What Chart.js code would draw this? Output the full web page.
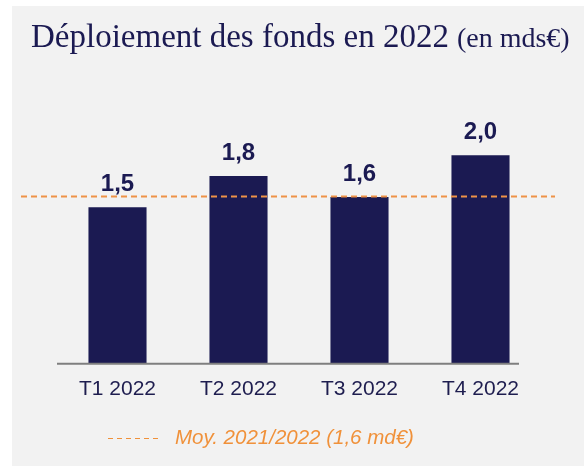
<!DOCTYPE html>
<html>
<head>
<meta charset="utf-8">
<script src="https://cdn.jsdelivr.net/npm/chart.js@4"></script>
<style>
  html, body { margin: 0; padding: 0; background: #ffffff; }
  #wrap { position: relative; width: 584px; height: 467px; }
</style>
</head>
<body>
<div id="wrap"><canvas id="chart" width="584" height="467"></canvas></div>
<script>
// data
const categories = ['T1 2022', 'T2 2022', 'T3 2022', 'T4 2022'];
const deploiement = [1.5, 1.8, 1.6, 2.0];
const moyenne = 1.6;
const titre = 'Déploiement des fonds en 2022';
const sousTitre = '(en mds€)';
const legendeMoy = 'Moy. 2021/2022 (1,6 md€)';

const navy = '#1b1a52';
const orange = '#f0913a';

const fmt = v => v.toFixed(1).replace('.', ',');

// fond gris + titre
const fondPlugin = {
  id: 'fond',
  beforeDraw(chart) {
    const ctx = chart.ctx;
    ctx.save();
    ctx.fillStyle = '#f2f2f2';
    ctx.fillRect(12, 6, chart.width - 12, chart.height - 7);
    ctx.fillStyle = navy;
    ctx.textBaseline = 'alphabetic';
    ctx.font = '33px "Liberation Serif", serif';
    ctx.fillText(titre, 31, 47);
    const w = ctx.measureText(titre).width;
    ctx.font = '28px "Liberation Serif", serif';
    ctx.fillText(sousTitre, 31 + w + 8, 47);
    ctx.restore();
  }
};

// axe, ligne moyenne, étiquettes, légende
const decorPlugin = {
  id: 'decor',
  afterDatasetsDraw(chart) {
    const ctx = chart.ctx;
    const area = chart.chartArea;
    const y = chart.scales.y;
    ctx.save();

    // ligne de base
    ctx.strokeStyle = '#7f7f7f';
    ctx.lineWidth = 2;
    ctx.beginPath();
    ctx.moveTo(area.left, y.getPixelForValue(0));
    ctx.lineTo(area.right - 22, y.getPixelForValue(0));
    ctx.stroke();

    // moyenne
    const ym = Math.round(y.getPixelForValue(moyenne)) - 0.5;
    ctx.strokeStyle = '#ee9247';
    ctx.lineWidth = 2;
    ctx.setLineDash([6, 4]);
    ctx.beginPath();
    ctx.moveTo(area.left - 36, ym);
    ctx.lineTo(area.right + 14, ym);
    ctx.stroke();

    // valeurs
    ctx.setLineDash([]);
    ctx.fillStyle = navy;
    ctx.font = 'bold 24px "Liberation Sans", Arial, sans-serif';
    ctx.textAlign = 'center';
    ctx.textBaseline = 'alphabetic';
    chart.getDatasetMeta(0).data.forEach((bar, i) => {
      ctx.fillText(fmt(deploiement[i]), bar.x, bar.y - 16);
    });

    // légende
    ctx.strokeStyle = orange;
    ctx.lineWidth = 1.2;
    ctx.setLineDash([5, 4]);
    ctx.beginPath();
    ctx.moveTo(108, 438.5);
    ctx.lineTo(159, 438.5);
    ctx.stroke();
    ctx.fillStyle = orange;
    ctx.font = 'italic 20.5px "Liberation Sans", Arial, sans-serif';
    ctx.textAlign = 'left';
    ctx.textBaseline = 'middle';
    ctx.fillText(legendeMoy, 175, 438);
    ctx.restore();
  }
};

new Chart(document.getElementById('chart'), {
  type: 'bar',
  data: {
    labels: categories,
    datasets: [{
      data: deploiement,
      backgroundColor: navy,
      borderWidth: 0,
      categoryPercentage: 1,
      barPercentage: 0.48
    }]
  },
  options: {
    responsive: false,
    animation: false,
    layout: { padding: { left: 57, right: 43, top: 103, bottom: 60 } },
    plugins: { legend: { display: false }, tooltip: { enabled: false } },
    scales: {
      x: {
        grid: { display: false },
        border: { display: false },
        ticks: {
          color: '#1e1d4f',
          font: { family: '"Liberation Sans", Arial, sans-serif', size: 21 },
          padding: 5
        }
      },
      y: { display: false, min: 0, max: 2.5 }
    }
  },
  plugins: [fondPlugin, decorPlugin]
});
</script>
</body>
</html>
